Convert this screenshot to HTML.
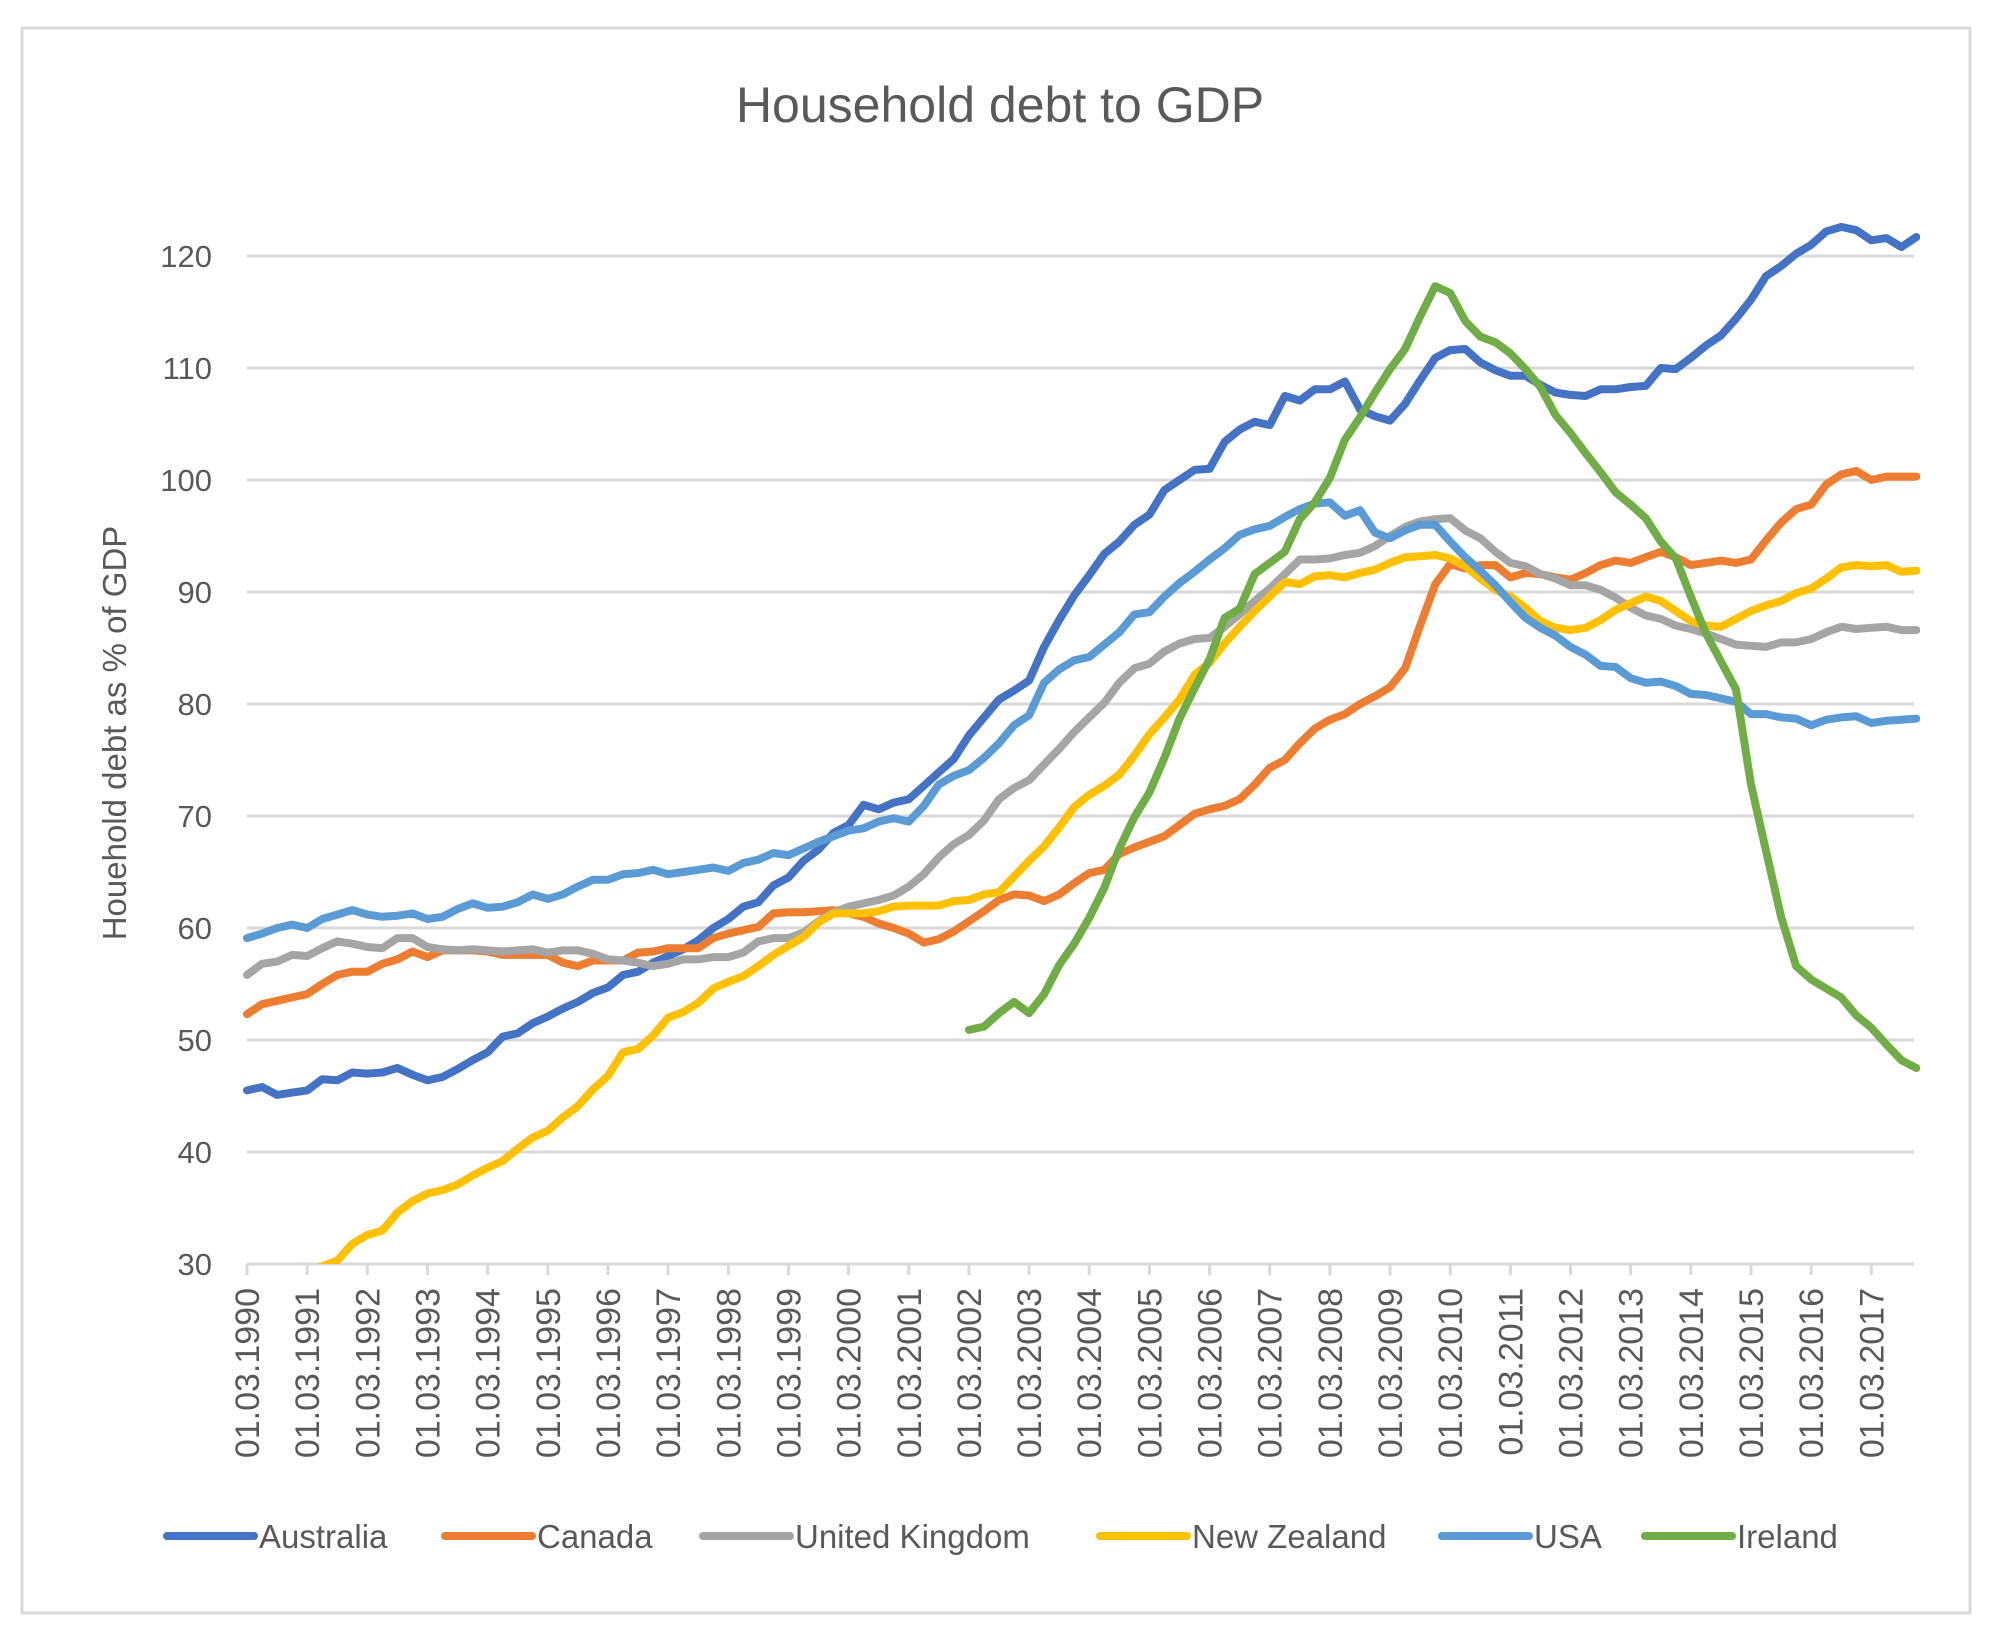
<!DOCTYPE html>
<html><head><meta charset="utf-8"><style>
html,body{margin:0;padding:0;background:#fff;}
svg{display:block;font-family:"Liberation Sans",sans-serif;}
</style></head><body>
<svg id="chart" width="2000" height="1629" viewBox="0 0 2000 1629">
<rect x="22" y="28" width="1948" height="1585" fill="#fff" stroke="#d9d9d9" stroke-width="3"/>
<text x="1000" y="122" text-anchor="middle" font-size="50" fill="#595959">Household debt to GDP</text>
<text transform="translate(126,733) rotate(-90)" text-anchor="middle" font-size="33" fill="#595959">Houehold debt as % of GDP</text>
<g id="grid"></g><g id="yticks"></g><g id="xticks"></g>
<defs><clipPath id="plotclip"><rect x="200" y="150" width="1720" height="1114"/></clipPath></defs>
<g id="series" clip-path="url(#plotclip)"></g>
<g id="legend"></g>
</svg>
<script>
const yTicks=[30,40,50,60,70,80,90,100,110,120];
const xLabels=["01.03.1990","01.03.1991","01.03.1992","01.03.1993","01.03.1994","01.03.1995","01.03.1996","01.03.1997","01.03.1998","01.03.1999","01.03.2000","01.03.2001","01.03.2002","01.03.2003","01.03.2004","01.03.2005","01.03.2006","01.03.2007","01.03.2008","01.03.2009","01.03.2010","01.03.2011","01.03.2012","01.03.2013","01.03.2014","01.03.2015","01.03.2016","01.03.2017"];
const seriesNames=["Australia","Canada","United Kingdom","New Zealand","USA","Ireland"];
const seriesColors=["#4472c4","#ed7d31","#a5a5a5","#ffc000","#5b9bd5","#70ad47"];
const australia=[45.5,45.8,45.1,45.3,45.5,46.5,46.4,47.1,47.0,47.1,47.5,46.9,46.4,46.7,47.4,48.2,48.9,50.3,50.6,51.5,52.1,52.8,53.4,54.2,54.7,55.8,56.1,56.9,57.5,58.1,58.9,60.0,60.8,61.9,62.3,63.8,64.5,66.0,67.0,68.5,69.2,71.0,70.6,71.2,71.5,72.7,73.9,75.1,77.2,78.8,80.4,81.2,82.1,85.1,87.5,89.7,91.5,93.4,94.5,96.0,96.9,99.1,100.0,100.9,101.0,103.4,104.5,105.2,104.9,107.5,107.1,108.1,108.1,108.8,106.3,105.7,105.3,106.8,108.9,110.9,111.6,111.7,110.5,109.8,109.3,109.3,108.5,107.8,107.6,107.5,108.1,108.1,108.3,108.4,110.0,109.9,110.9,112.0,112.9,114.4,116.1,118.2,119.1,120.2,121.0,122.2,122.6,122.3,121.4,121.6,120.8,121.7];
const canada=[52.3,53.2,53.5,53.8,54.1,55.0,55.8,56.1,56.1,56.8,57.2,57.9,57.4,58.0,58.0,58.0,57.9,57.6,57.6,57.6,57.6,56.9,56.6,57.1,57.1,57.1,57.8,57.9,58.2,58.2,58.2,59.1,59.5,59.8,60.1,61.3,61.4,61.4,61.5,61.6,61.3,61.0,60.4,60.0,59.5,58.7,59.0,59.7,60.6,61.5,62.5,63.0,62.9,62.4,63.0,64.0,64.9,65.2,66.6,67.2,67.7,68.2,69.2,70.2,70.6,70.9,71.5,72.8,74.3,75.0,76.5,77.8,78.6,79.1,80.0,80.7,81.5,83.2,87.0,90.7,92.5,92.1,92.4,92.4,91.3,91.7,91.6,91.3,91.1,91.7,92.4,92.8,92.6,93.1,93.6,93.1,92.4,92.6,92.8,92.6,92.9,94.6,96.2,97.4,97.8,99.6,100.5,100.8,100.0,100.3,100.3,100.3];
const unitedKingdom=[55.8,56.8,57.0,57.6,57.5,58.2,58.8,58.6,58.3,58.2,59.1,59.1,58.3,58.1,58.0,58.1,58.0,57.9,58.0,58.1,57.8,58.0,58.0,57.7,57.2,57.1,56.9,56.6,56.8,57.2,57.2,57.4,57.4,57.8,58.8,59.1,59.1,59.6,60.6,61.4,61.9,62.2,62.5,62.9,63.7,64.8,66.3,67.5,68.3,69.6,71.5,72.5,73.2,74.6,76.0,77.5,78.8,80.1,81.9,83.2,83.6,84.7,85.4,85.8,85.9,86.9,88.0,89.2,90.3,91.6,92.9,92.9,93.0,93.3,93.5,94.1,95.0,95.8,96.3,96.5,96.6,95.5,94.8,93.6,92.6,92.3,91.6,91.2,90.6,90.6,90.2,89.5,88.6,87.9,87.6,87.0,86.7,86.3,85.8,85.3,85.2,85.1,85.5,85.5,85.8,86.4,86.9,86.7,86.8,86.9,86.6,86.6];
const newZealand=[25.5,26.5,27.5,28.5,29.3,29.8,30.3,31.8,32.6,33.0,34.6,35.6,36.3,36.6,37.1,37.9,38.6,39.2,40.3,41.3,41.9,43.1,44.1,45.6,46.8,48.9,49.2,50.4,52.0,52.5,53.3,54.6,55.2,55.7,56.6,57.6,58.4,59.2,60.5,61.3,61.3,61.3,61.5,61.9,62.0,62.0,62.0,62.4,62.5,63.0,63.2,64.6,66.0,67.3,69.0,70.8,71.9,72.7,73.7,75.4,77.3,78.8,80.4,82.6,83.7,85.4,86.9,88.3,89.6,90.9,90.7,91.4,91.5,91.3,91.7,92.0,92.6,93.1,93.2,93.3,93.0,92.3,91.2,90.2,89.6,88.6,87.4,86.8,86.6,86.8,87.5,88.4,89.0,89.6,89.2,88.3,87.4,87.0,86.9,87.6,88.3,88.8,89.2,89.9,90.3,91.2,92.2,92.4,92.3,92.4,91.8,91.9];
const usa=[59.1,59.5,60.0,60.3,60.0,60.8,61.2,61.6,61.2,61.0,61.1,61.3,60.8,61.0,61.7,62.2,61.8,61.9,62.3,63.0,62.6,63.0,63.7,64.3,64.3,64.8,64.9,65.2,64.8,65.0,65.2,65.4,65.1,65.8,66.1,66.7,66.5,67.1,67.7,68.2,68.7,68.9,69.5,69.8,69.5,70.9,72.8,73.6,74.1,75.2,76.5,78.1,79.0,81.9,83.1,83.9,84.2,85.3,86.4,88.0,88.2,89.6,90.8,91.8,92.9,93.9,95.1,95.6,95.9,96.7,97.4,97.9,98.0,96.8,97.3,95.3,94.8,95.5,96.0,96.0,94.5,93.1,91.9,90.6,89.1,87.7,86.8,86.1,85.1,84.4,83.4,83.3,82.3,81.9,82.0,81.6,80.9,80.8,80.5,80.2,79.1,79.1,78.8,78.7,78.1,78.6,78.8,78.9,78.3,78.5,78.6,78.7];
const ireland=[null,null,null,null,null,null,null,null,null,null,null,null,null,null,null,null,null,null,null,null,null,null,null,null,null,null,null,null,null,null,null,null,null,null,null,null,null,null,null,null,null,null,null,null,null,null,null,null,50.9,51.2,52.4,53.4,52.4,54.1,56.7,58.6,60.9,63.6,67.1,69.9,72.1,75.2,78.7,81.4,84.0,87.7,88.5,91.6,92.6,93.6,96.5,98.0,100.2,103.6,105.6,107.8,109.9,111.7,114.6,117.3,116.7,114.2,112.8,112.3,111.3,109.9,108.3,105.8,104.2,102.4,100.7,98.9,97.8,96.6,94.5,93.0,89.6,86.3,83.8,81.3,72.8,66.9,61.0,56.6,55.4,54.6,53.8,52.2,51.1,49.6,48.2,47.5];
const seriesData=[australia,canada,unitedKingdom,newZealand,usa,ireland];

const NS="http://www.w3.org/2000/svg";
const X0=247,QSTEP=15.04,PLOT_R=1914,Y_TOP=256,Y_BOT=1264,V_TOP=120,V_BOT=30;
function xPos(i){return X0+i*QSTEP;}
function yPos(v){return Y_BOT-(v-V_BOT)*(Y_BOT-Y_TOP)/(V_TOP-V_BOT);}
function mk(tag,attrs,parent){const e=document.createElementNS(NS,tag);for(const k in attrs)e.setAttribute(k,attrs[k]);parent.appendChild(e);return e;}

const grid=document.getElementById('grid'),yt=document.getElementById('yticks');
yTicks.forEach(v=>{
  const l=mk('line',{x1:X0,x2:PLOT_R,y1:yPos(v),y2:yPos(v),stroke:'#d9d9d9','stroke-width':3},grid);
  
  
  const t=mk('text',{x:212,y:yPos(v)+11,'text-anchor':'end','font-size':31,fill:'#595959'},yt);
  t.textContent=v;
  
  
});
const xt=document.getElementById('xticks');
xLabels.forEach((lab,k)=>{
  const x=xPos(k*4);
  const tk=mk('line',{x1:x,x2:x,y1:Y_BOT,y2:Y_BOT+11,stroke:'#d9d9d9','stroke-width':3},xt);
  
  
  const t=mk('text',{transform:`translate(${x+12},${Y_BOT+24}) rotate(-90)`,'text-anchor':'end','font-size':34,fill:'#595959'},xt);
  t.textContent=lab;
  
  
});
const sg=document.getElementById('series');
seriesData.forEach((arr,s)=>{
  let d='';let pen=false;
  arr.forEach((v,i)=>{if(v==null){pen=false;return;}d+=(pen?'L':'M')+xPos(i).toFixed(1)+' '+yPos(v).toFixed(1)+' ';pen=true;});
  const p=mk('path',{d:d,fill:'none',stroke:seriesColors[s],'stroke-width':8,'stroke-linejoin':'round','stroke-linecap':'round'},sg);
  
  
});
const lg=document.getElementById('legend');
const legendX=[167,445,703,1100,1442,1645];
seriesNames.forEach((n,s)=>{
  const g=mk('g',{},lg);
  
  
  mk('line',{x1:legendX[s],x2:legendX[s]+87,y1:1536,y2:1536,stroke:seriesColors[s],'stroke-width':8,'stroke-linecap':'round'},g);
  const t=mk('text',{x:legendX[s]+92,y:1548,'font-size':33,fill:'#595959'},g);
  t.textContent=n;
});
</script>
</body></html>
